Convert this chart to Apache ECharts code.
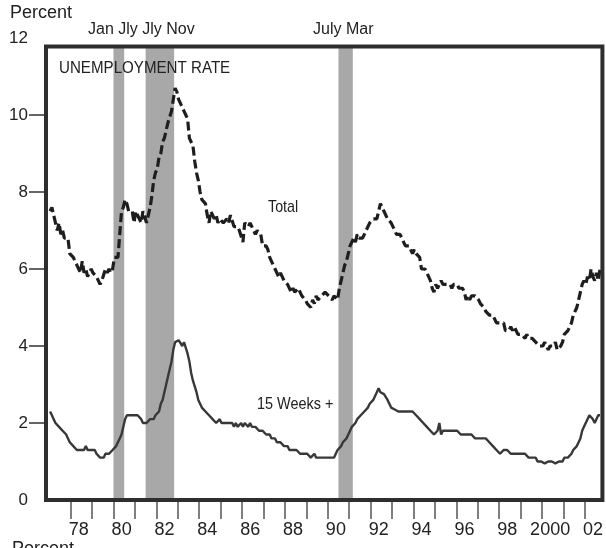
<!DOCTYPE html>
<html>
<head>
<meta charset="utf-8">
<script src="https://cdn.jsdelivr.net/npm/echarts@6/dist/echarts.min.js"></script>
<style>
  html, body { margin: 0; padding: 0; background: #fff; }
  #chart { width: 606px; height: 548px; }
</style>
</head>
<body>
<div id="chart"></div>
<script>
// monthly, Jan 1977 .. Sep 2002
var startYear = 1977
var total = [
  7.5, 7.6, 7.4, 7.2, 7.0, 7.2, 6.9, 7.0, 6.8, 6.8, 6.8, 6.4,
  6.4, 6.3, 6.3, 6.1, 6.0, 5.9, 6.2, 5.9, 6.0, 5.8, 5.9, 6.0,
  5.9, 5.9, 5.8, 5.8, 5.6, 5.7, 5.7, 6.0, 5.9, 6.0, 5.9, 6.0,
  6.3, 6.3, 6.3, 6.9, 7.5, 7.6, 7.8, 7.7, 7.5, 7.5, 7.5, 7.2,
  7.5, 7.4, 7.4, 7.2, 7.5, 7.5, 7.2, 7.4, 7.6, 7.9, 8.3, 8.5,
  8.6, 8.9, 9.0, 9.3, 9.4, 9.6, 9.8, 9.8, 10.1, 10.4, 10.7, 10.6,
  10.4, 10.3, 10.2, 10.1, 10.0, 9.9, 9.4, 9.4, 9.2, 8.8, 8.5, 8.3,
  8.0, 7.8, 7.8, 7.7, 7.4, 7.2, 7.5, 7.5, 7.3, 7.4, 7.2, 7.3,
  7.3, 7.2, 7.2, 7.3, 7.2, 7.4, 7.4, 7.1, 7.1, 7.1, 7.0, 7.0,
  6.7, 7.2, 7.2, 7.1, 7.2, 7.2, 7.0, 6.9, 7.0, 7.0, 6.9, 6.6,
  6.6, 6.6, 6.5, 6.3, 6.2, 6.1, 6.0, 5.9, 5.8, 5.9, 5.8, 5.7,
  5.7, 5.6, 5.6, 5.4, 5.5, 5.4, 5.4, 5.5, 5.4, 5.3, 5.3, 5.2,
  5.1, 5.1, 5.0, 5.2, 5.1, 5.3, 5.2, 5.2, 5.3, 5.3, 5.4, 5.4,
  5.3, 5.3, 5.2, 5.3, 5.3, 5.2, 5.5, 5.7, 5.9, 6.1, 6.2, 6.4,
  6.6, 6.7, 6.8, 6.7, 6.9, 6.8, 6.8, 6.8, 6.9, 7.0, 7.0, 7.2,
  7.2, 7.3, 7.3, 7.3, 7.5, 7.7, 7.6, 7.5, 7.5, 7.3, 7.3, 7.2,
  7.1, 7.0, 6.9, 6.9, 6.9, 6.8, 6.7, 6.6, 6.6, 6.6, 6.5, 6.4,
  6.5, 6.4, 6.4, 6.3, 6.0, 6.0, 6.0, 6.0, 5.8, 5.7, 5.5, 5.4,
  5.6, 5.5, 5.5, 5.7, 5.6, 5.6, 5.6, 5.6, 5.6, 5.5, 5.6, 5.6,
  5.6, 5.5, 5.5, 5.5, 5.4, 5.2, 5.3, 5.2, 5.3, 5.3, 5.3, 5.3,
  5.2, 5.1, 5.1, 5.0, 4.9, 4.9, 4.8, 4.8, 4.8, 4.7, 4.6, 4.6,
  4.6, 4.6, 4.6, 4.4, 4.4, 4.4, 4.5, 4.4, 4.5, 4.4, 4.3, 4.3,
  4.3, 4.3, 4.2, 4.3, 4.2, 4.2, 4.2, 4.2, 4.1, 4.1, 4.0, 4.0,
  4.0, 4.1, 4.0, 3.9, 4.0, 4.0, 4.0, 4.1, 3.9, 3.9, 4.0, 4.1,
  4.3, 4.3, 4.4, 4.5, 4.6, 4.8, 4.9, 5.0, 5.2, 5.4, 5.6, 5.7,
  5.6, 5.8, 5.7, 6.0, 5.8, 5.7, 5.9, 5.7, 6.0
]
var weeks15 = [
  2.3, 2.2, 2.1, 2.0, 2.0, 1.9, 1.9, 1.8, 1.8, 1.7, 1.6, 1.5,
  1.5, 1.4, 1.4, 1.3, 1.3, 1.3, 1.3, 1.3, 1.4, 1.3, 1.3, 1.3,
  1.3, 1.3, 1.2, 1.2, 1.1, 1.1, 1.1, 1.2, 1.2, 1.2, 1.2, 1.3,
  1.3, 1.4, 1.5, 1.6, 1.7, 1.9, 2.1, 2.2, 2.2, 2.2, 2.2, 2.2,
  2.2, 2.2, 2.2, 2.1, 2.0, 2.0, 2.0, 2.0, 2.1, 2.1, 2.1, 2.2,
  2.2, 2.3, 2.5, 2.6, 2.8, 3.0, 3.2, 3.4, 3.6, 3.9, 4.1, 4.15,
  4.15, 4.15, 4.0, 4.1, 4.05, 3.8, 3.6, 3.3, 3.1, 2.95, 2.8, 2.6,
  2.5, 2.4, 2.35, 2.3, 2.3, 2.2, 2.2, 2.1, 2.1, 2.0, 2.0, 2.1,
  2.0, 2.0, 2.0, 2.0, 2.0, 2.0, 2.0, 1.9, 2.0, 1.9, 1.9, 2.0,
  1.9, 2.0, 2.0, 1.9, 2.0, 1.9, 1.9, 1.9, 1.9, 1.8, 1.8, 1.8,
  1.8, 1.7, 1.7, 1.7, 1.6, 1.6, 1.6, 1.5, 1.5, 1.5, 1.5, 1.4,
  1.4, 1.4, 1.3, 1.3, 1.3, 1.3, 1.3, 1.3, 1.2, 1.2, 1.2, 1.2,
  1.2, 1.2, 1.1, 1.1, 1.2, 1.1, 1.1, 1.1, 1.1, 1.1, 1.1, 1.1,
  1.1, 1.1, 1.1, 1.1, 1.2, 1.3, 1.3, 1.4, 1.5, 1.5, 1.6, 1.7,
  1.8, 1.9, 1.9, 2.0, 2.1, 2.1, 2.2, 2.2, 2.3, 2.3, 2.4, 2.5,
  2.5, 2.6, 2.7, 2.8, 2.9, 2.8, 2.8, 2.75, 2.75, 2.6, 2.5, 2.4,
  2.4, 2.35, 2.35, 2.3, 2.35, 2.3, 2.3, 2.3, 2.3, 2.3, 2.3, 2.3,
  2.3, 2.2, 2.2, 2.1, 2.15, 2.0, 2.0, 1.9, 1.9, 1.8, 1.8, 1.7,
  1.7, 1.8, 2.0, 1.7, 1.8, 1.75, 1.8, 1.8, 1.8, 1.8, 1.8, 1.75,
  1.8, 1.8, 1.7, 1.7, 1.7, 1.7, 1.7, 1.7, 1.7, 1.7, 1.6, 1.6,
  1.6, 1.6, 1.6, 1.6, 1.6, 1.6, 1.5, 1.5, 1.4, 1.4, 1.3, 1.3,
  1.2, 1.2, 1.3, 1.3, 1.3, 1.3, 1.2, 1.2, 1.2, 1.2, 1.2, 1.2,
  1.2, 1.2, 1.2, 1.2, 1.1, 1.1, 1.1, 1.1, 1.1, 1.0, 1.0, 1.0,
  1.0, 0.95, 1.0, 1.0, 0.95, 1.0, 1.0, 0.95, 0.95, 1.0, 1.0, 1.0,
  1.1, 1.1, 1.1, 1.1, 1.2, 1.3, 1.3, 1.4, 1.5, 1.6, 1.8, 1.9,
  2.0, 2.1, 2.2, 2.2, 2.1, 2.0, 2.0, 2.2, 2.2
]
// recessions (decimal years)
var recStart = [1980.0, 1981.5, 1990.5]
var recEnd = [1980.5, 1982.83, 1991.17]
var yearTicks = []
for (var y = 1978; y <= 2002; y++) yearTicks.push(y)
var yearLabels = []
for (var y2 = 1978; y2 <= 2002; y2 += 2) yearLabels.push(y2 + 0.38)
var yTicks = [2, 4, 6, 8, 10]
var yLabels = [0, 2, 4, 6, 8, 10, 12]

var xMin = 1976.85
var xMax = 2002.82
var frameTop = 11.78
var font = "'Liberation Sans', Arial, sans-serif"

function toPairs(arr) {
  var out = []
  for (var i = 0; i < arr.length; i++) {
    out.push([startYear + (i + 0.5) / 12, arr[i]])
  }
  return out
}

var recAreas = []
for (var i = 0; i < recStart.length; i++) {
  recAreas.push([{ xAxis: recStart[i], yAxis: 0 }, { xAxis: recEnd[i], yAxis: frameTop }])
}

var chart = echarts.init(document.getElementById('chart'))
chart.setOption({
  animation: false,
  backgroundColor: '#fff',
  grid: { left: 46, right: 1, top: 38, bottom: 48 },
  xAxis: {
    type: 'value',
    min: xMin,
    max: xMax,
    axisLine: { show: false },
    splitLine: { show: false },
    axisTick: {
      show: true,
      customValues: yearTicks,
      length: 19,
      lineStyle: { color: '#555', width: 1.5 }
    },
    axisLabel: {
      customValues: yearLabels,
      margin: 21,
      color: '#222',
      fontSize: 18,
      fontFamily: font,
      formatter: function (v) {
        var yr = Math.floor(v)
        if (yr === 2000) return '2000'
        var s = String(yr % 100)
        return s.length < 2 ? '0' + s : s
      }
    }
  },
  yAxis: {
    type: 'value',
    min: 0,
    max: 12,
    interval: 2,
    axisLine: { show: false },
    splitLine: { show: false },
    axisTick: {
      show: true,
      customValues: yTicks,
      length: 17,
      lineStyle: { color: '#333', width: 1.5 }
    },
    axisLabel: {
      customValues: yLabels,
      margin: 18,
      color: '#222',
      fontSize: 17,
      fontFamily: font
    }
  },
  series: [
    {
      name: 'Total',
      type: 'line',
      data: toPairs(total),
      showSymbol: false,
      lineStyle: { color: '#1e1e1e', width: 3.2, type: [9, 4] },
      z: 3,
      markArea: {
        silent: true,
        itemStyle: { color: '#a8a8a8' },
        data: recAreas
      }
    },
    {
      name: '15 Weeks +',
      type: 'line',
      data: toPairs(weeks15),
      showSymbol: false,
      lineStyle: { color: '#383838', width: 2.4 },
      z: 3
    }
  ]
})

var tl = chart.convertToPixel({ gridIndex: 0 }, [xMin, frameTop])
var br = chart.convertToPixel({ gridIndex: 0 }, [xMax, 0])

// annotation text, squeezed horizontally like the narrow face of the original
function txt(x, y, s, size, sx) {
  return {
    type: 'text',
    x: x,
    y: y,
    scaleX: sx || 1,
    z: 10,
    style: { text: s, fill: '#222', font: size + 'px ' + font, textVerticalAlign: 'top' }
  }
}

chart.setOption({
  graphic: [
    {
      type: 'rect',
      z: 9,
      shape: { x: tl[0], y: tl[1], width: br[0] - tl[0], height: br[1] - tl[1] },
      style: { fill: null, stroke: '#2e2e2e', lineWidth: 4 }
    },
    txt(10, 4, 'Percent', 18),
    txt(88, 22, 'Jan Jly Jly Nov', 16),
    txt(313, 22, 'July Mar', 16),
    txt(59, 60, 'UNEMPLOYMENT RATE', 17, 0.89),
    txt(268, 199, 'Total', 17, 0.84),
    txt(257, 396, '15 Weeks +', 17, 0.85),
    txt(12, 540, 'Percent', 18)
  ]
})
</script>
</body>
</html>
